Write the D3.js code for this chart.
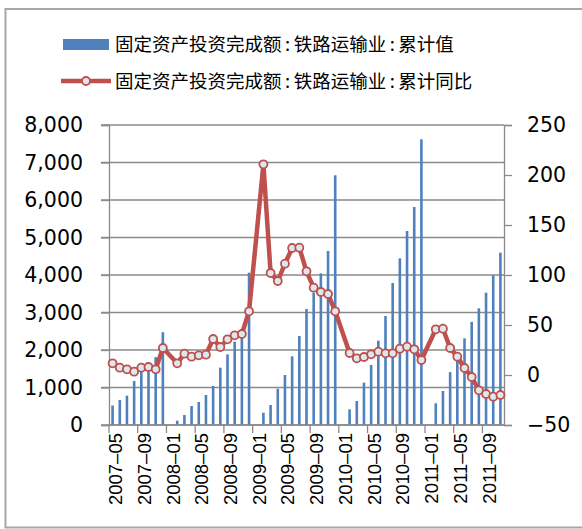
<!DOCTYPE html>
<html><head><meta charset="utf-8">
<script src="https://cdn.jsdelivr.net/npm/d3@7/dist/d3.min.js"></script>
<style>
body{margin:0;background:#fff;}
svg{display:block;}
</style></head>
<body><svg id="c" width="582" height="529"></svg>
<script>
const categories = ["2007-05","2007-06","2007-07","2007-08","2007-09","2007-10","2007-11","2007-12",
"2008-01","2008-02","2008-03","2008-04","2008-05","2008-06","2008-07","2008-08","2008-09","2008-10","2008-11","2008-12",
"2009-01","2009-02","2009-03","2009-04","2009-05","2009-06","2009-07","2009-08","2009-09","2009-10","2009-11","2009-12",
"2010-01","2010-02","2010-03","2010-04","2010-05","2010-06","2010-07","2010-08","2010-09","2010-10","2010-11","2010-12",
"2011-01","2011-02","2011-03","2011-04","2011-05","2011-06","2011-07","2011-08","2011-09","2011-10","2011-11"];
const cumValue = [520,667,782,1173,1420,1620,1810,2475,
null,116,267,507,613,800,1040,1529,1884,2222,2453,4062,
null,329,533,969,1333,1831,2373,3093,3530,4044,4640,6658,
null,418,640,1129,1600,2249,2907,3787,4444,5173,5813,7618,
null,578,907,1410,1900,2311,2750,3111,3529,3991,4596];
const cumYoY = [11.7,7.3,5.7,3.3,7.3,8,5.7,27,
null,11.7,21.3,18.3,19.7,20.3,36,28,35.7,39.7,41,63.7,
null,210.7,102,94,111.3,127,127.3,103.7,87.3,83,81,63.7,
null,22,16.7,18,20.7,23.3,21.7,21.7,26.3,28.3,25.7,15,
null,45.7,46.3,27,18.3,7,-2,-15.3,-19,-21.7,-20];
const leftTicks = [0,1000,2000,3000,4000,5000,6000,7000,8000];
const rightTicks = [-50,0,50,100,150,200,250];
const seriesNames = ["固定资产投资完成额:铁路运输业:累计值","固定资产投资完成额:铁路运输业:累计同比"];

const svg = d3.select("#c");
const L = 109, R = 504, T = 125, B = 425;
const gridColor = "#8a8a8a";
const numFont = "DejaVu Sans";

svg.append("rect").attr("x",0).attr("y",0).attr("width",582).attr("height",529).attr("fill","#fff");
svg.append("rect").attr("x",5.5).attr("y",9).attr("width",600).attr("height",518.5)
  .attr("fill","none").attr("stroke","#a6a6a6").attr("stroke-width",2);

const x = d3.scaleBand().domain(categories).range([L,R]).padding(0);
const yL = d3.scaleLinear().domain([0,8000]).range([B,T]);
const yR = d3.scaleLinear().domain([-50,250]).range([B,T]);

// gridlines
svg.append("g").selectAll("line").data(leftTicks).join("line")
  .attr("x1",L-8).attr("x2",R).attr("y1",d=>yL(d)).attr("y2",d=>yL(d))
  .attr("stroke",gridColor).attr("stroke-width",1.3);

// left axis
const gl = svg.append("g").attr("transform",`translate(${L},0)`)
  .call(d3.axisLeft(yL).tickValues(leftTicks).tickFormat(d3.format(",")).tickSize(8).tickPadding(18));
gl.select(".domain").attr("stroke",gridColor).attr("stroke-width",1.3);
gl.selectAll(".tick line").attr("stroke",gridColor).attr("stroke-width",1.3);
gl.selectAll("text").attr("font-family",numFont).attr("font-size","20.5px").attr("fill","#000");

// right axis
const gr = svg.append("g").attr("transform",`translate(${R},0)`)
  .call(d3.axisRight(yR).tickValues(rightTicks).tickSize(8).tickPadding(15));
gr.select(".domain").attr("stroke",gridColor).attr("stroke-width",1.3);
gr.selectAll(".tick line").attr("stroke",gridColor).attr("stroke-width",1.3);
gr.selectAll("text").attr("font-family",numFont).attr("font-size","20.5px").attr("fill","#000");

// bars
const bw = 2.6;
svg.append("g").selectAll("rect").data(categories.map((c,i)=>({c,v:cumValue[i]})).filter(d=>d.v!=null))
  .join("rect")
  .attr("x",d=>x(d.c)+x.bandwidth()/2-bw/2).attr("width",bw)
  .attr("y",d=>yL(d.v)).attr("height",d=>yL(0)-yL(d.v))
  .attr("fill","#4f81bd");

// bottom axis
const labelIdx = categories.map((c,i)=>i).filter(i=>i%4===0);
const gb = svg.append("g");
gb.append("line").attr("x1",L).attr("x2",R).attr("y1",B).attr("y2",B).attr("stroke",gridColor).attr("stroke-width",1.3);
gb.selectAll("line.t").data(labelIdx).join("line").attr("class","t")
  .attr("x1",i=>x(categories[i])).attr("x2",i=>x(categories[i]))
  .attr("y1",B).attr("y2",B+8).attr("stroke",gridColor).attr("stroke-width",1.3);
gb.selectAll("text").data(labelIdx).join("text")
  .attr("transform",i=>`translate(${x(categories[i])+x.bandwidth()/2+3},${B+8}) rotate(-90)`)
  .attr("text-anchor","end").attr("dy","0.35em")
  .attr("font-family","Liberation Sans").attr("font-size","18.5px").attr("fill","#000")
  .text(i=>categories[i].replace("-","–"));

// line
const pts = categories.map((c,i)=>({c,v:cumYoY[i]})).filter(d=>d.v!=null);
const cx = d=>x(d.c)+x.bandwidth()/2;
svg.append("path").datum(pts)
  .attr("d",d3.line().x(cx).y(d=>yR(d.v)))
  .attr("fill","none").attr("stroke","#c0504d").attr("stroke-width",4.5).attr("stroke-linejoin","round");
svg.append("g").selectAll("circle").data(pts).join("circle")
  .attr("cx",cx).attr("cy",d=>yR(d.v)).attr("r",4)
  .attr("fill","#dbe9ef").attr("stroke","#c0504d").attr("stroke-width",1.8);

// legend
const lg = svg.append("g");
lg.append("rect").attr("x",63).attr("y",39).attr("width",46).attr("height",11).attr("fill","#4f81bd");
lg.append("line").attr("x1",61).attr("x2",111).attr("y1",81).attr("y2",81).attr("stroke","#c0504d").attr("stroke-width",4.5);
lg.append("circle").attr("cx",86).attr("cy",81).attr("r",4).attr("fill","#dbe9ef").attr("stroke","#c0504d").attr("stroke-width",1.8);
seriesNames.forEach((name,i)=>{
  const t = lg.append("text").attr("x",115).attr("y",i===0?44.5:81.5).attr("dy","0.35em")
    .attr("font-family","Noto Sans CJK SC").attr("font-size","18.5px").attr("fill","#000");
  name.split(/(:)/).forEach(part=>{
    const ts = t.append("tspan").text(part);
    if(part===":") ts.attr("dx",3.5);
    else if(t.selectAll("tspan").size()>1) ts.attr("dx",3.5);
  });
});
</script></body></html>
